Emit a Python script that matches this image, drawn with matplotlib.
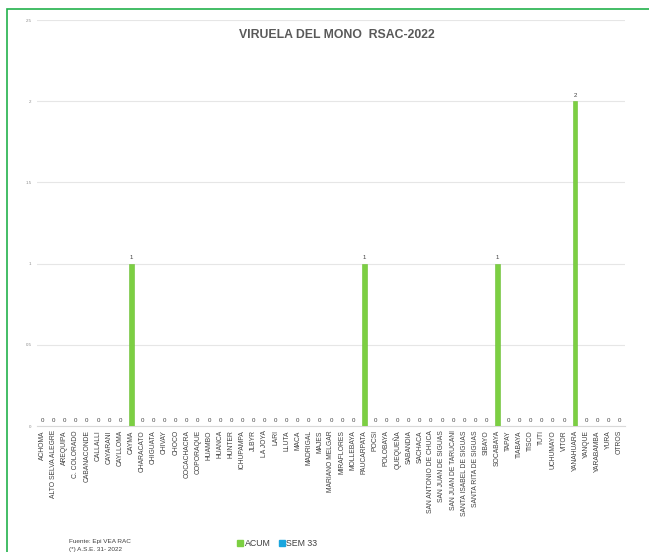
import matplotlib
matplotlib.use("Agg")
import matplotlib.pyplot as plt
from matplotlib.patches import Rectangle
from matplotlib.lines import Line2D

plt.rcParams['font.family'] = ['Liberation Sans', 'DejaVu Sans']

categories = ["ACHOMA", "ALTO SELVA ALEGRE", "AREQUIPA", "C. COLORADO", "CABANACONDE",
              "CALLALLI", "CAYARANI", "CAYLLOMA", "CAYMA", "CHARACATO", "CHIGUATA",
              "CHIVAY", "CHOCO", "COCACHACRA", "COPORAQUE", "HUAMBO", "HUANCA", "HUNTER",
              "ICHUPAMPA", "JLBYR", "LA JOYA", "LARI", "LLUTA", "MACA", "MADRIGAL", "MAJES",
              "MARIANO MELGAR", "MIRAFLORES", "MOLLEBAYA", "PAUCARPATA", "POCSI",
              "POLOBAYA", "QUEQUEÑA", "SABANDIA", "SACHACA", "SAN ANTONIO DE CHUCA",
              "SAN JUAN DE SIGUAS", "SAN JUAN DE TARUCANI", "SANTA ISABEL DE SIGUAS",
              "SANTA RITA DE SIGUAS", "SIBAYO", "SOCABAYA", "TAPAY", "TIABAYA", "TISCO",
              "TUTI", "UCHUMAYO", "VITOR", "YANAHUARA", "YANQUE", "YARABAMBA", "YURA",
              "OTROS"]
acum = [0, 0, 0, 0, 0, 0, 0, 0, 1, 0, 0, 0, 0, 0, 0, 0, 0, 0, 0, 0, 0, 0, 0, 0, 0, 0,
        0, 0, 0, 1, 0, 0, 0, 0, 0, 0, 0, 0, 0, 0, 0, 1, 0, 0, 0, 0, 0, 0, 2, 0, 0, 0, 0]
sem33 = [0] * len(categories)
yticks = [0, 0.5, 1, 1.5, 2, 2.5]
ytick_labels = ["0", "0.5", "1", "1.5", "2", "2.5"]

W, H = 649, 552
fig = plt.figure(figsize=(W / 100, H / 100), dpi=100)

# axes in pixel coordinates: x 37..625, y 20..426 (top-origin)
left, right, top, bottom = 37, 625, 20, 426
ax = fig.add_axes([left / W, 1 - bottom / H, (right - left) / W, (bottom - top) / H])

x = list(range(len(categories)))
green = '#7ccf42'
blue = '#1aa6de'
ax.bar(x, acum, width=0.42, color=green, edgecolor='#6cbf34', linewidth=0.4, zorder=3)
ax.bar(x, sem33, width=0.42, color=blue, zorder=3)

for xi, v in zip(x, acum):
    ax.text(xi, v + 0.02, f"{v}", ha='center', va='bottom', fontsize=4.4, color='#404040')

ax.set_xlim(-0.5, len(categories) - 0.5)
ax.set_ylim(0, 2.5)
ax.set_yticks(yticks)
ax.set_yticklabels(ytick_labels, fontsize=3.2, color='#8c8c8c')
ax.yaxis.grid(True, color='#e6e6e6', linewidth=0.8, zorder=0)
ax.set_axisbelow(True)
ax.set_xticks(x)
ax.set_xticklabels(categories, rotation=90, fontsize=4.9, color='#404040', ha='center', va='top')
ax.tick_params(axis='both', length=0, pad=4)
ax.tick_params(axis='x', pad=3)
for s in ['top', 'right', 'left']:
    ax.spines[s].set_visible(False)
ax.spines['bottom'].set_color('#d9d9d9')
ax.spines['bottom'].set_linewidth(0.8)

fig.text(337 / W, 1 - 35 / H, "VIRUELA DEL MONO  RSAC-2022", ha='center', va='center',
         fontsize=8.8, fontweight='bold', color='#595959')

# footer
fig.text(69 / W, 1 - 541 / H, "Fuente: Epi VEA RAC", ha='left', va='center', fontsize=4.6, color='#404040')
fig.text(69 / W, 1 - 549 / H, "(*) A.S.E. 31- 2022", ha='left', va='center', fontsize=4.6, color='#404040')

# legend
handles = [Line2D([], [], marker='s', linestyle='none', markersize=4.5, color=green),
           Line2D([], [], marker='s', linestyle='none', markersize=4.5, color=blue)]
fig.legend(handles, ["ACUM", "SEM 33"], loc='center', bbox_to_anchor=(277 / W, 1 - 544 / H),
           ncol=2, frameon=False, fontsize=6.3, handletextpad=0.1, columnspacing=0.9,
           handlelength=0.8, labelcolor='#404040')

# green frame
fig.patches.append(Rectangle((7 / W, -0.05), 1.1, 1 - 9 / H + 0.05, transform=fig.transFigure,
                             fill=False, edgecolor='#22b14c', linewidth=1.2))

fig.savefig("out.png", dpi=100)
